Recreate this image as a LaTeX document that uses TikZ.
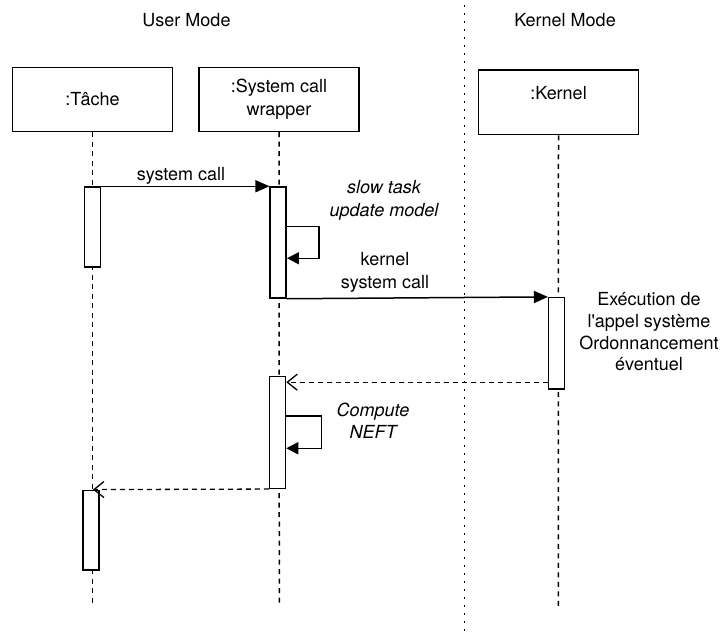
\documentclass[tikz,border=0pt]{standalone}
\usepackage{fontspec}
\setmainfont{TeX Gyre Heros}
\usetikzlibrary{arrows.meta,calc}
\begin{document}
\begin{tikzpicture}[x=1pt,y=-1pt,
  every node/.style={font=\fontsize{18}{23}\selectfont},
  obj/.style={draw,line width=1.5pt,fill=white,minimum width=160pt,minimum height=64pt,inner sep=0pt,align=center},
  act/.style={draw,line width=1.5pt,fill=white,minimum width=16pt,inner sep=0pt},
  life/.style={line width=1.5pt,dash pattern=on 5pt off 4.5pt},
  sepline/.style={line width=1.5pt,dash pattern=on 1.5pt off 6.5pt},
  msg/.style={line width=1.5pt,-{Triangle[length=14pt,width=12pt]}},
  selfmsg/.style={line width=1.5pt,-{Triangle[length=12pt,width=12pt]}},
  ret/.style={line width=1.3pt,dash pattern=on 5pt off 4pt,-{Straight Barb[length=10pt,width=16pt,line width=1.3pt]}},
  lbl/.style={align=center,inner sep=0pt}
]
\useasboundingbox (0,0) rectangle (725,640);
\fill[white] (0,0) rectangle (725,640);

% titles
\node[lbl] (um) at (186.5,20) {User Mode};
\node[lbl] (km) at (565,20) {Kernel Mode};

% separator
\coordinate (sept) at (464.5,5);
\coordinate (sepb) at (464.5,634);
\draw[sepline] (sept) -- (sepb);

% objects
\node[obj] (tache) at (92.5,99.5) {:Tâche};
\node[obj] (wrap) at (279,99.3) {:System call\\wrapper};
\node[obj,minimum height=64.7pt] (kern) at (558.5,102.3) {};
\node[lbl] (kernt) at (558.5,93) {:Kernel};

% lifelines
\coordinate (tend) at (92.5,605);
\coordinate (wend) at (279.3,605);
\coordinate (kend) at (558.3,608);
\draw[life] (tache.south) -- (tend);
\draw[life] (wrap.south) -- (wend);
\draw[life] (kern.south) -- (kend);

% activations
\node[act,minimum height=80pt] (a1) at (92.4,227) {};
\node[act,minimum height=111pt] (a2) at (278.2,242.5) {};
\node[act,minimum height=91.3pt] (a3) at (556.7,343.3) {};
\node[act,minimum height=111.6pt] (a4) at (277.5,432.5) {};
\node[act,minimum height=79.7pt] (a5) at (90.9,530.2) {};

% system call
\draw[msg] (a1.north east) -- (a2.north west);
\node[lbl,anchor=base] (l1) at (181,180) {system call};

% self loop 1
\coordinate (s1a) at ($(a2.north east)+(0,40)$);
\coordinate (s1b) at ($(a2.north east)+(32,72)$);
\coordinate (s1c) at ($(a2.north east)+(0,72)$);
\draw[selfmsg] (s1a) -| (s1b) -- (s1c);
\node[lbl,font=\fontsize{18}{23}\selectfont\itshape] (l2) at (384,200) {slow task\\update model};

% kernel system call
\draw[msg] (a2.south east) -- (a3.north west);
\node[lbl] (l3) at (385,272) {kernel\\system call};

% execution label
\node[lbl,font=\fontsize{18}{21.7}\selectfont] (l4) at (649,332) {Exécution de\\l\textquotesingle appel système\\Ordonnancement\\éventuel};

% return 1
\coordinate (r1) at ($(a3.south west)+(0,-7.5)$);
\draw[ret] (r1) -- (r1 -| a4.east);

% self loop 2
\coordinate (s2a) at ($(a4.north east)+(0,40)$);
\coordinate (s2b) at ($(a4.north east)+(35,72.3)$);
\coordinate (s2c) at ($(a4.north east)+(0,72.3)$);
\draw[selfmsg] (s2a) -| (s2b) -- (s2c);
\node[lbl,font=\fontsize{18}{22}\selectfont\itshape] (l5) at (373,421) {Compute\\NEFT};

% return 2
\draw[ret] (a4.south west) -- ($(a5.north)+(2,0)$);
\end{tikzpicture}
\end{document}
